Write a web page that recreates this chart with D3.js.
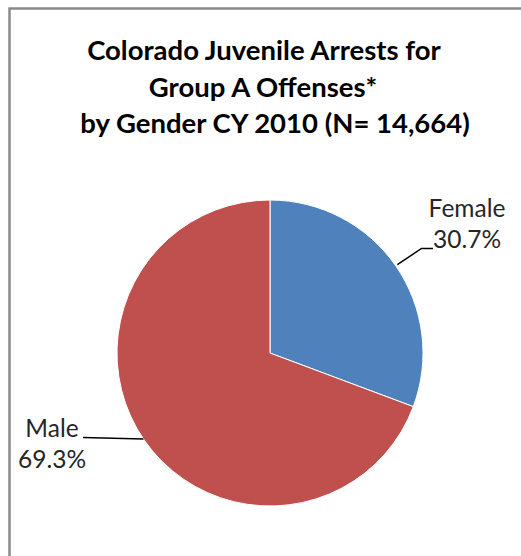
<!DOCTYPE html>
<html>
<head>
<meta charset="utf-8">
<script src="https://cdn.jsdelivr.net/npm/d3@7"></script>
<style>
  html, body { margin: 0; padding: 0; background: #fff; }
  svg { display: block; }
</style>
</head>
<body>
<svg id="chart" width="521" height="556"></svg>
<script>
// Juvenile arrests by gender, CY 2010
const categories = ["Female", "Male"];
const shares = [30.7, 69.3];
const colors = ["#4F81BD", "#C0504D"];
const titleLines = [
  "Colorado Juvenile Arrests for",
  "Group A Offenses*",
  "by Gender CY 2010 (N= 14,664)"
];

const svg = d3.select("#chart");
const W = 521, H = 556;

// chart area frame (extends past the right and bottom edges)
svg.append("rect")
  .attr("x", 9.5).attr("y", 8.5)
  .attr("width", W + 20).attr("height", H + 20)
  .attr("fill", "#fff")
  .attr("stroke", "#8a8a8a")
  .attr("stroke-width", 2.5);

// title
const titleCenters = [264, 263, 275];
svg.append("g").selectAll("text")
  .data(titleLines)
  .join("text")
  .attr("x", (d, i) => titleCenters[i])
  .attr("y", (d, i) => 60 + i * 36.5)
  .attr("text-anchor", "middle")
  .attr("font-family", "Lato, 'Open Sans', sans-serif")
  .attr("font-weight", "bold")
  .attr("font-size", 27.5)
  .attr("fill", "#000")
  .text(d => d);

// pie
const cx = 270, cy = 353, r = 153;
const data = categories.map((c, i) => ({ name: c, value: shares[i], color: colors[i] }));
const pie = d3.pie().value(d => d.value).sort(null);
const arc = d3.arc().innerRadius(0).outerRadius(r);
const arcs = pie(data);

const g = svg.append("g").attr("transform", `translate(${cx},${cy})`);
g.selectAll("path")
  .data(arcs)
  .join("path")
  .attr("d", arc)
  .attr("fill", d => d.data.color)
  .attr("stroke", "#fff")
  .attr("stroke-width", 1);

// data labels with leader lines
const labelFont = "Lato, 'Open Sans', sans-serif";
const labelSpec = {
  Female: { elbow: [421.5, 248.5], lineEnd: [433, 248.5], tx: 467, ty: 217 },
  Male:   { elbow: null, lineEnd: [83, 437.5], tx: 52, ty: 437 }
};

arcs.forEach(a => {
  const s = labelSpec[a.data.name];
  let edge;
  if (a.data.name === "Female") {
    // leader starts just outside the rim at the slice's mid-angle
    const ang = (a.startAngle + a.endAngle) / 2;
    edge = [cx + (r + 2) * Math.sin(ang), cy - (r + 2) * Math.cos(ang)];
  } else {
    // point on the rim at the leader's height on the left side
    const dy = 439 - cy;
    edge = [cx - Math.sqrt(r * r - dy * dy), 439];
  }
  const pts = s.elbow ? [edge, s.elbow, s.lineEnd] : [edge, s.lineEnd];
  svg.append("path")
    .attr("d", d3.line()(pts))
    .attr("fill", "none")
    .attr("stroke", "#000")
    .attr("stroke-width", 1.5);

  const t = svg.append("text")
    .attr("text-anchor", "middle")
    .attr("font-family", labelFont)
    .attr("font-size", 24.5)
    .attr("fill", "#262626");
  t.append("tspan").attr("x", s.tx).attr("y", s.ty).text(a.data.name);
  t.append("tspan").attr("x", s.tx).attr("y", s.ty + 31)
    .text(d3.format(".1f")(a.data.value) + "%");
});
</script>
</body>
</html>
